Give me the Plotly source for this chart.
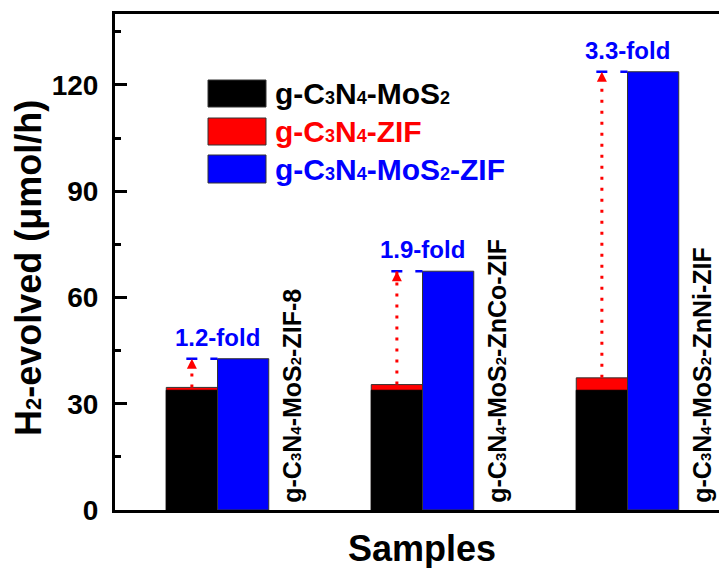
import plotly.graph_objects as go

# ---- data ----
samples = ["g-C3N4-MoS2-ZIF-8", "g-C3N4-MoS2-ZnCo-ZIF", "g-C3N4-MoS2-ZnNi-ZIF"]
sample_labels = [
    "g-C<span style='font-size:15px'>3</span>N<span style='font-size:15px'>4</span>-MoS<span style='font-size:15px'>2</span>-ZIF-8",
    "g-C<span style='font-size:15px'>3</span>N<span style='font-size:15px'>4</span>-MoS<span style='font-size:15px'>2</span>-ZnCo-ZIF",
    "g-C<span style='font-size:15px'>3</span>N<span style='font-size:15px'>4</span>-MoS<span style='font-size:15px'>2</span>-ZnNi-ZIF",
]
series_names = ["g-C3N4-MoS2", "g-C3N4-ZIF", "g-C3N4-MoS2-ZIF"]
legend_labels = [
    "g-C<span style='font-size:18px'>3</span>N<span style='font-size:18px'>4</span>-MoS<span style='font-size:18px'>2</span>",
    "g-C<span style='font-size:18px'>3</span>N<span style='font-size:18px'>4</span>-ZIF",
    "g-C<span style='font-size:18px'>3</span>N<span style='font-size:18px'>4</span>-MoS<span style='font-size:18px'>2</span>-ZIF",
]
mos2_values = [33.8, 33.8, 33.8]        # black
zif_values = [34.6, 35.4, 37.3]         # red
mos2_zif_values = [42.7, 67.4, 123.7]   # blue
fold_labels = ["1.2-fold", "1.9-fold", "3.3-fold"]
y_ticks = [0, 30, 60, 90, 120]

# ---- style ----
BLACK, RED, BLUE = "#000000", "#ff0000", "#0000ff"
FONT = "Liberation Sans, Arial, sans-serif"
BW = 0.25
xpos = list(range(len(samples)))

fig = go.Figure()
edge = dict(color="#333333", width=1)
fig.add_trace(go.Bar(x=xpos, y=zif_values, name=series_names[1], width=BW, offset=-BW,
                     marker=dict(color=RED, line=edge)))
fig.add_trace(go.Bar(x=xpos, y=mos2_values, name=series_names[0], width=BW, offset=-BW,
                     marker=dict(color=BLACK, line=dict(color=BLACK, width=1))))
fig.add_trace(go.Bar(x=xpos, y=mos2_zif_values, name=series_names[2], width=BW, offset=0,
                     marker=dict(color=BLUE, line=edge)))

for i in xpos:
    xc = i - BW / 2
    # blue dashed level line
    fig.add_trace(go.Scatter(x=[xc - 0.027, i], y=[mos2_zif_values[i]] * 2, mode="lines",
                             line=dict(color=BLUE, width=2.5, dash="11px,13px"),
                             showlegend=False, hoverinfo="skip"))
    # red dotted arrow
    fig.add_trace(go.Scatter(x=[xc, xc], y=[zif_values[i], mos2_zif_values[i]], mode="lines",
                             line=dict(color=RED, width=3, dash="3px,8px"),
                             showlegend=False, hoverinfo="skip"))
    fig.add_trace(go.Scatter(x=[xc], y=[mos2_zif_values[i]], mode="markers",
                             marker=dict(symbol="arrow-up", size=10, color=RED),
                             showlegend=False, hoverinfo="skip"))
    # fold label
    fig.add_annotation(x=i, y=mos2_zif_values[i], xref="x", yref="y", text=fold_labels[i],
                       showarrow=False, yanchor="bottom", yshift=6,
                       font=dict(family=FONT, size=24, color=BLUE, weight="bold"))
    # sample label
    fig.add_annotation(x=i + BW, y=0, xref="x", yref="y", text=sample_labels[i],
                       showarrow=False, textangle=-90, xanchor="left", yanchor="bottom",
                       xshift=7, yshift=5,
                       font=dict(family=FONT, size=25, color=BLACK, weight="bold"))

# manual legend
L, R_ = 115, 719
T, B = 14, 510
def px(x):
    return (x - L) / (R_ - L)
def py(y):
    return (B - y) / (B - T)

leg_colors = [BLACK, RED, BLUE]
leg_rows = [(80, 107), (118, 145), (155, 183)]
for (y0, y1), col, lab in zip(leg_rows, leg_colors, legend_labels):
    fig.add_shape(type="rect", xref="paper", yref="paper", x0=px(208), x1=px(266),
                  y0=py(y1), y1=py(y0), fillcolor=col, line=dict(color="#333333", width=1))
    fig.add_annotation(xref="paper", yref="paper", x=px(273), y=py((y0 + y1) / 2),
                       text=lab, showarrow=False, xanchor="left", yanchor="middle",
                       font=dict(family=FONT, size=30, color=col, weight="bold"))

# axis titles
fig.add_annotation(xref="paper", yref="paper", x=px(28), y=py(268),
                   text="H<span style='font-size:22px'>2</span>-evolved (μmol/h)", textangle=-90,
                   showarrow=False, xanchor="center", yanchor="middle",
                   font=dict(family=FONT, size=36, color=BLACK, weight="bold"))
fig.add_annotation(xref="paper", yref="paper", x=px(422), y=py(548),
                   text="Samples", showarrow=False, xanchor="center", yanchor="middle",
                   font=dict(family=FONT, size=36, color=BLACK, weight="bold"))

fig.update_layout(
    width=719, height=568,
    margin=dict(l=L, r=719 - R_, t=T, b=568 - B, pad=0),
    barmode="overlay",
    plot_bgcolor="white", paper_bgcolor="white",
    showlegend=False,
    font=dict(family=FONT, color=BLACK),
)
fig.update_xaxes(range=[-0.5, -0.5 + (R_ - L) / 205.0], showticklabels=False, ticks="",
                 showgrid=False, zeroline=False, showline=True, linecolor=BLACK,
                 linewidth=3, mirror=True)
fig.update_yaxes(range=[0, 140], tickvals=y_ticks, ticks="inside", ticklen=12, tickwidth=3,
                 tickcolor=BLACK, showgrid=False, zeroline=False, showline=True,
                 linecolor=BLACK, linewidth=3, ticklabelstandoff=8,
                 tickfont=dict(family=FONT, size=28, color=BLACK, weight="bold"),
                 minor=dict(tickvals=[15, 45, 75, 105, 135], ticks="inside", ticklen=6,
                            tickwidth=3, tickcolor=BLACK))

fig.write_html("out.html")
